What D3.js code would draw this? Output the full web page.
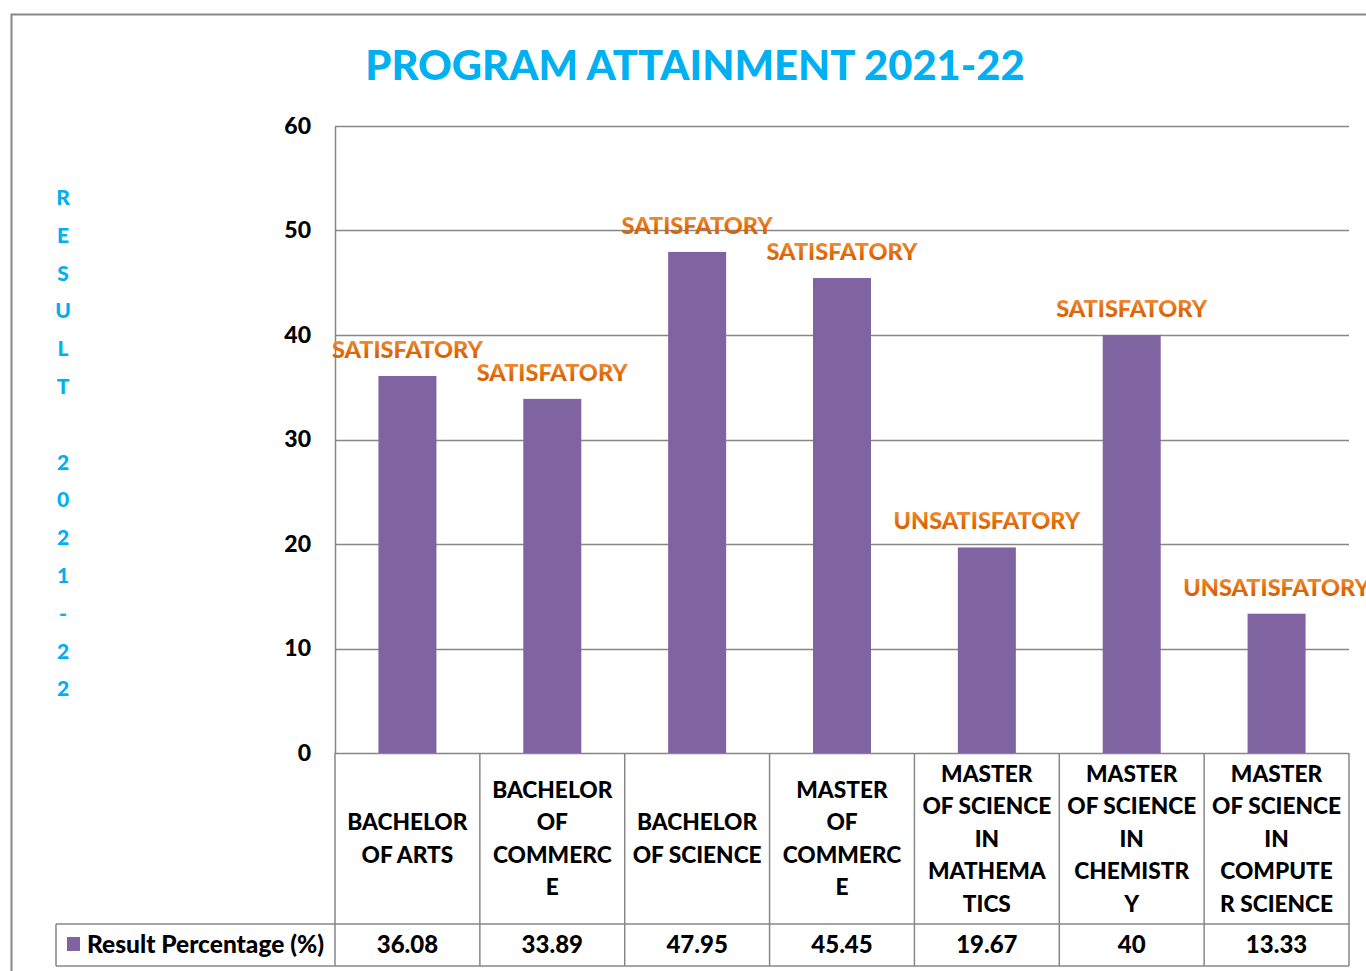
<!DOCTYPE html>
<html>
<head>
<meta charset="utf-8">
<script src="https://cdn.jsdelivr.net/npm/d3@7"></script>
<style>
  body { margin: 0; background: #fff; }
  svg { display: block; font-family: Lato, "Open Sans", sans-serif; font-weight: 900; }
</style>
</head>
<body>
<svg id="chart"></svg>
<script>
// data
var programs = [
  ["BACHELOR", "OF ARTS"],
  ["BACHELOR", "OF", "COMMERC", "E"],
  ["BACHELOR", "OF SCIENCE"],
  ["MASTER", "OF", "COMMERC", "E"],
  ["MASTER", "OF SCIENCE", "IN", "MATHEMA", "TICS"],
  ["MASTER", "OF SCIENCE", "IN", "CHEMISTR", "Y"],
  ["MASTER", "OF SCIENCE", "IN", "COMPUTE", "R SCIENCE"]
];
var resultPct = [36.08, 33.89, 47.95, 45.45, 19.67, 40, 13.33];
var statusLabels = ["SATISFATORY", "SATISFATORY", "SATISFATORY", "SATISFATORY", "UNSATISFATORY", "SATISFATORY", "UNSATISFATORY"];
var yTicks = [0, 10, 20, 30, 40, 50, 60];
var seriesName = "Result Percentage (%)";
var axisTitle = "RESULT 2021-22";
var chartTitle = "PROGRAM ATTAINMENT 2021-22";

var width = 1366, height = 971;
var svg = d3.select("#chart").attr("width", width).attr("height", height);

var grey = "#878787";
var barColor = "#8064A2";
var blue = "#00B0F0";

// gradient for the status labels
var grad = svg.append("defs").append("linearGradient")
    .attr("id", "orangeGrad").attr("x1", 0).attr("y1", 0).attr("x2", 0).attr("y2", 1);
grad.append("stop").attr("offset", "0%").attr("stop-color", "#F2A04C");
grad.append("stop").attr("offset", "55%").attr("stop-color", "#E46C0A");
grad.append("stop").attr("offset", "100%").attr("stop-color", "#C45800");

// outer chart border
svg.append("rect")
    .attr("x", 11.5).attr("y", 14.5)
    .attr("width", 1380).attr("height", 990)
    .attr("fill", "none").attr("stroke", grey).attr("stroke-width", 2);

var plot = { left: 335, right: 1349, top: 126, bottom: 753 };
var tableMid = 924, tableBottom = 966, legendLeft = 56;

var x = d3.scaleBand()
    .domain(d3.range(programs.length))
    .range([plot.left, plot.right])
    .paddingInner(0).paddingOuter(0);

var y = d3.scaleLinear().domain([0, 60]).range([plot.bottom, plot.top]);

// title
svg.append("text")
    .attr("x", 695).attr("y", 80)
    .attr("text-anchor", "middle")
    .attr("fill", blue)
    .style("font-size", "41.7px")
    .text(chartTitle);

// vertical axis title, stacked letters
svg.append("g").selectAll("text")
    .data(axisTitle.split(""))
    .join("text")
    .attr("x", 63)
    .attr("y", (d, i) => 205 + i * 37.8)
    .attr("text-anchor", "middle")
    .attr("fill", blue)
    .style("font-size", "21px")
    .text(d => d);

// gridlines
svg.append("g").selectAll("line")
    .data(yTicks)
    .join("line")
    .attr("x1", plot.left).attr("x2", plot.right)
    .attr("y1", d => Math.round(y(d)) + 0.5).attr("y2", d => Math.round(y(d)) + 0.5)
    .attr("stroke", grey).attr("stroke-width", 1.5);

// y axis via d3 axis, styled
var yAxis = svg.append("g")
    .attr("transform", "translate(" + plot.left + ",0)")
    .call(d3.axisLeft(y).tickValues(yTicks).tickSize(0).tickPadding(24));
yAxis.select(".domain").attr("stroke", grey).attr("stroke-width", 1.5);
yAxis.selectAll("text")
    .attr("fill", "#000")
    .style("font-size", "23px")
    .style("font-family", "Lato, sans-serif")
    .style("font-weight", "900");

// bars
var barW = 58;
svg.append("g").selectAll("rect")
    .data(resultPct)
    .join("rect")
    .attr("x", (d, i) => x(i) + x.bandwidth() / 2 - barW / 2)
    .attr("y", d => y(d))
    .attr("width", barW)
    .attr("height", d => plot.bottom - y(d))
    .attr("fill", barColor);

// status labels
svg.append("g").selectAll("text")
    .data(resultPct)
    .join("text")
    .attr("x", (d, i) => x(i) + x.bandwidth() / 2)
    .attr("y", d => y(d) - 18)
    .attr("text-anchor", "middle")
    .attr("fill", "url(#orangeGrad)")
    .style("font-size", "23.5px")
    .text((d, i) => statusLabels[i]);

// data table
var table = svg.append("g");
var bounds = d3.range(programs.length + 1).map(i => i < programs.length ? x(i) : plot.right);

table.selectAll("line.v")
    .data(bounds)
    .join("line")
    .attr("class", "v")
    .attr("x1", d => d).attr("x2", d => d)
    .attr("y1", plot.bottom).attr("y2", tableBottom)
    .attr("stroke", grey).attr("stroke-width", 1.5);

table.append("line")
    .attr("x1", legendLeft).attr("x2", legendLeft)
    .attr("y1", tableMid).attr("y2", tableBottom)
    .attr("stroke", grey).attr("stroke-width", 1.5);

[tableMid, tableBottom].forEach(function(yy) {
  table.append("line")
      .attr("x1", legendLeft).attr("x2", plot.right)
      .attr("y1", yy).attr("y2", yy)
      .attr("stroke", grey).attr("stroke-width", 1.5);
});

// category labels
var lineH = 32.5;
var headMid = (plot.bottom + tableMid) / 2;
programs.forEach(function(lines, i) {
  var t = table.append("text")
      .attr("text-anchor", "middle")
      .style("font-size", "22.7px")
      .attr("fill", "#000");
  var y0 = headMid - (lines.length - 1) * lineH / 2 + 8;
  lines.forEach(function(l, j) {
    t.append("tspan")
        .attr("x", x(i) + x.bandwidth() / 2)
        .attr("y", y0 + j * lineH)
        .text(l);
  });
});

// values row
table.selectAll("text.val")
    .data(resultPct)
    .join("text")
    .attr("class", "val")
    .attr("x", (d, i) => x(i) + x.bandwidth() / 2)
    .attr("y", (tableMid + tableBottom) / 2 + 8)
    .attr("text-anchor", "middle")
    .style("font-size", "24px")
    .text(d => d);

// legend key
table.append("rect")
    .attr("x", 67).attr("y", 937).attr("width", 13).attr("height", 14)
    .attr("fill", barColor);
table.append("text")
    .attr("x", 87).attr("y", (tableMid + tableBottom) / 2 + 8)
    .style("font-size", "24.5px")
    .text(seriesName);
</script>
</body>
</html>
